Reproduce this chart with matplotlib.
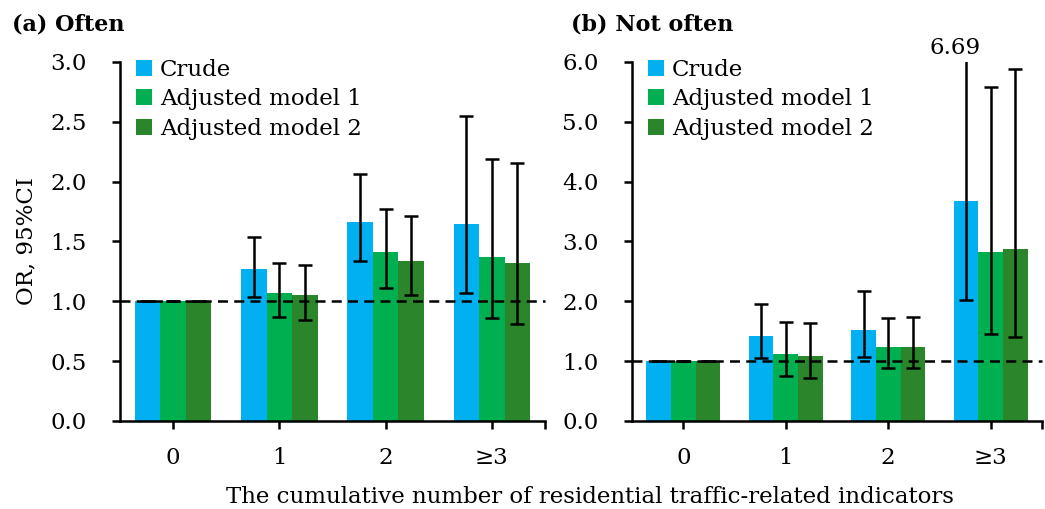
import matplotlib.pyplot as plt
import numpy as np

plt.rcParams['font.family'] = ['DejaVu Serif']

categories = ['0', '1', '2', '≥3']
series = ['Crude', 'Adjusted model 1', 'Adjusted model 2']
colors = ['#00B0F0', '#00B050', '#2B862B']

# (a) Often
often_or = [[1.00, 1.27, 1.66, 1.65],
            [1.00, 1.07, 1.41, 1.37],
            [1.00, 1.05, 1.34, 1.32]]
often_lo = [[1.00, 1.04, 1.34, 1.07],
            [1.00, 0.87, 1.11, 0.86],
            [1.00, 0.84, 1.05, 0.81]]
often_hi = [[1.00, 1.54, 2.06, 2.55],
            [1.00, 1.32, 1.77, 2.19],
            [1.00, 1.30, 1.71, 2.16]]

# (b) Not often
notoften_or = [[1.00, 1.42, 1.52, 3.68],
               [1.00, 1.12, 1.24, 2.83],
               [1.00, 1.08, 1.24, 2.88]]
notoften_lo = [[1.00, 1.05, 1.07, 2.03],
               [1.00, 0.76, 0.88, 1.45],
               [1.00, 0.72, 0.88, 1.41]]
notoften_hi = [[1.00, 1.96, 2.17, 6.69],
               [1.00, 1.65, 1.72, 5.59],
               [1.00, 1.64, 1.74, 5.89]]

fig = plt.figure(figsize=(10.45, 5.09), dpi=100)
ax1 = fig.add_axes([0.1148, 0.1729, 0.4067, 0.7053])
ax2 = fig.add_axes([0.6048, 0.1729, 0.3923, 0.7053])

x = np.arange(len(categories))
w = 0.24
fs = 16.5


def draw_panel(ax, ors, los, his, ymax, ystep):
    for i in range(3):
        pos = x + (i - 1) * w
        vals = np.array(ors[i])
        err = [vals - np.array(los[i]), np.array(his[i]) - vals]
        ax.bar(pos, vals, w, color=colors[i], label=series[i], zorder=2)
        ax.errorbar(pos, vals, yerr=err, fmt='none', ecolor='black',
                    elinewidth=1.8, capsize=5, capthick=1.8, zorder=4)
    ax.axhline(1.0, color='black', lw=1.8, ls=(0, (4, 2.5)), zorder=3,
               clip_on=False)
    ax.set_xlim(-0.5, 3.5)
    ax.set_ylim(0, ymax)
    ticks = np.arange(0, ymax + 0.001, ystep)
    ax.set_yticks(ticks)
    ax.set_yticklabels(['%.1f' % v for v in ticks])
    ax.set_xticks(x)
    ax.set_xticklabels(categories)
    ax.set_xticks([3.5], minor=True)
    for s in ['top', 'right']:
        ax.spines[s].set_visible(False)
    for s in ['left', 'bottom']:
        ax.spines[s].set_linewidth(1.8)
    ax.tick_params(axis='both', which='both', direction='out', length=6,
                   width=1.8, labelsize=fs)
    ax.tick_params(axis='x', pad=13)
    ax.tick_params(axis='y', pad=18)
    ax.legend(loc='upper left', frameon=False, fontsize=fs,
              handlelength=0.7, handleheight=0.7, handletextpad=0.35,
              labelspacing=0.32, borderaxespad=0.1,
              bbox_to_anchor=(0.01, 1.04))


draw_panel(ax1, often_or, often_lo, often_hi, 3.0, 0.5)
draw_panel(ax2, notoften_or, notoften_lo, notoften_hi, 6.0, 1.0)
ax1.set_ylabel('OR, 95%CI', fontsize=fs, labelpad=9)

ax2.annotate('%.2f' % notoften_hi[0][3], xy=(3 - w, 6.0), xytext=(-8, 2),
             textcoords='offset points', ha='center', va='bottom',
             fontsize=fs, annotation_clip=False)

fig.text(12 / 1045, 1 - 25 / 509, '(a) Often', fontsize=16,
         fontweight='bold', va='center', ha='left')
fig.text(571 / 1045, 1 - 25 / 509, '(b) Not often', fontsize=16,
         fontweight='bold', va='center', ha='left')

fig.text(0.565, 1 - 497 / 509, 'The cumulative number of residential traffic-related indicators',
         ha='center', va='center', fontsize=fs)

plt.savefig('out.png', dpi=100)
